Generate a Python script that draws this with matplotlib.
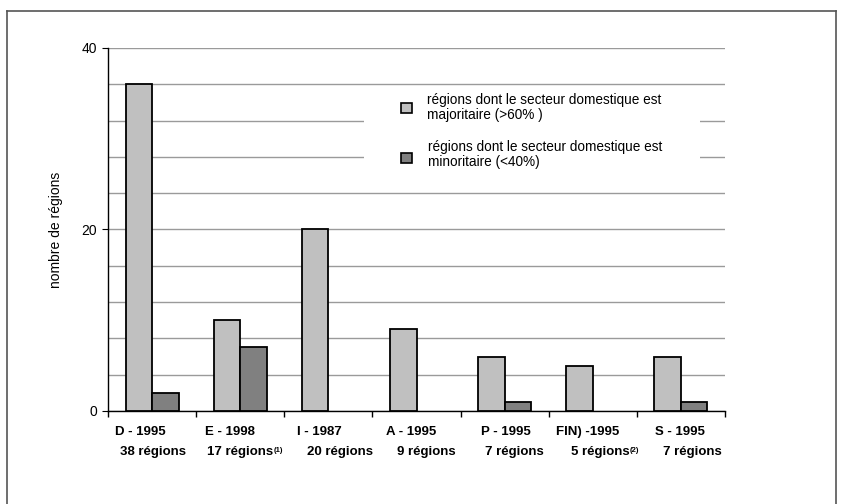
import numpy as np
import matplotlib
matplotlib.use('Agg')
import matplotlib.pyplot as plt
from matplotlib.patches import Rectangle
from matplotlib.lines import Line2D

plt.rcParams['font.family'] = ['Liberation Sans', 'DejaVu Sans']

# --- donnees ---
pays = ['D - 1995', 'E - 1998', 'I - 1987', 'A - 1995', 'P - 1995', 'FIN) -1995', 'S - 1995']
nb_regions = ['38 régions', '17 régions', '20 régions', '9 régions', '7 régions', '5 régions', '7 régions']
notes = ['', '(1)', '', '', '', '(2)', '']
majoritaire = [36, 10, 20, 9, 6, 5, 6]
minoritaire = [2, 7, 0, 0, 1, 0, 1]

leg_maj = 'régions dont le secteur domestique est\nmajoritaire (>60% )'
leg_min = 'régions dont le secteur domestique est\nminoritaire (<40%)'

# petits decalages des etiquettes (en unites de groupe)
decal1 = [-0.137, -0.12, -0.103, -0.057, 0.011, -0.057, -0.011]
decal2 = [0.011, 0.0, 0.137, 0.114, 0.114, 0.08, 0.125]

gris_clair = '#c0c0c0'
gris_fonce = '#808080'

fig = plt.figure(figsize=(8.42, 5.04), dpi=100)
ax = fig.add_axes([108/842, 1-411/504, 617/842, 363/504])

x = np.arange(len(pays))
w = 0.3
ax.bar(x - w/2, majoritaire, w, color=gris_clair, edgecolor='black', linewidth=1.3, zorder=3)
# les barres a zero n'apparaissent pas
mino = np.array(minoritaire, dtype=float)
mask = mino > 0
ax.bar(x[mask] + w/2, mino[mask], w, color=gris_fonce, edgecolor='black', linewidth=1.3, zorder=3)

ax.set_xlim(-0.5, len(pays) - 0.5)
ax.set_ylim(0, 40)

ax.set_yticks([0, 20, 40])
ax.set_yticks(np.arange(0, 41, 4), minor=True)
ax.tick_params(axis='y', which='major', direction='out', length=4, labelsize=10, pad=4)
ax.tick_params(axis='y', which='minor', length=0)
ax.yaxis.grid(True, which='both', color='#9a9a9a', linewidth=1, zorder=0)
ax.set_axisbelow(True)

ax.set_xticks(np.arange(-0.5, len(pays), 1))
ax.set_xticklabels([])
ax.tick_params(axis='x', direction='out', length=4, width=1)

for s in ['top', 'right']:
    ax.spines[s].set_visible(False)
for s in ['left', 'bottom']:
    ax.spines[s].set_linewidth(1)
    ax.spines[s].set_color('black')

ax.set_ylabel('nombre de régions', fontsize=10, labelpad=13)

# etiquettes sur deux lignes
tr = ax.get_xaxis_transform()
for i in range(len(pays)):
    ax.text(x[i] + decal1[i], -0.058, pays[i], transform=tr, ha='center', va='center',
            fontsize=9.5, fontweight='bold')
    t = ax.text(x[i] + decal2[i], -0.113, nb_regions[i], transform=tr, ha='center', va='center',
                fontsize=9.5, fontweight='bold')
    if notes[i]:
        ax.annotate(notes[i], xy=(1.0, 0.3), xycoords=t, fontsize=5.5, fontweight='bold',
                    ha='left', va='bottom', xytext=(0.5, 0), textcoords='offset points')

# legende dessinee a la main (fond blanc qui cache la grille)
ax.add_patch(Rectangle((0.415, 0.606), 0.544, 0.284, transform=ax.transAxes,
                       facecolor='white', edgecolor='none', zorder=1))
ax.add_patch(Rectangle((0.475, 0.821), 0.018, 0.027, transform=ax.transAxes,
                       facecolor=gris_clair, edgecolor='black', linewidth=1.2, zorder=4))
ax.add_patch(Rectangle((0.475, 0.683), 0.018, 0.028, transform=ax.transAxes,
                       facecolor=gris_fonce, edgecolor='black', linewidth=1.2, zorder=4))
ax.text(0.517, 0.836, leg_maj, transform=ax.transAxes, fontsize=9.8, va='center', ha='left',
        linespacing=1.12, zorder=4)
ax.text(0.519, 0.707, leg_min, transform=ax.transAxes, fontsize=9.8, va='center', ha='left',
        linespacing=1.12, zorder=4)

# cadre exterieur
W, H = 842, 504
for xs, ys in [([7, 7], [11, 505]), ([7, 836], [11, 11]), ([836, 836], [11, 505])]:
    fig.add_artist(Line2D([v / W for v in xs], [1 - v / H for v in ys], color='#555555',
                          linewidth=1.2, transform=fig.transFigure))

fig.savefig('out.png', dpi=100)
